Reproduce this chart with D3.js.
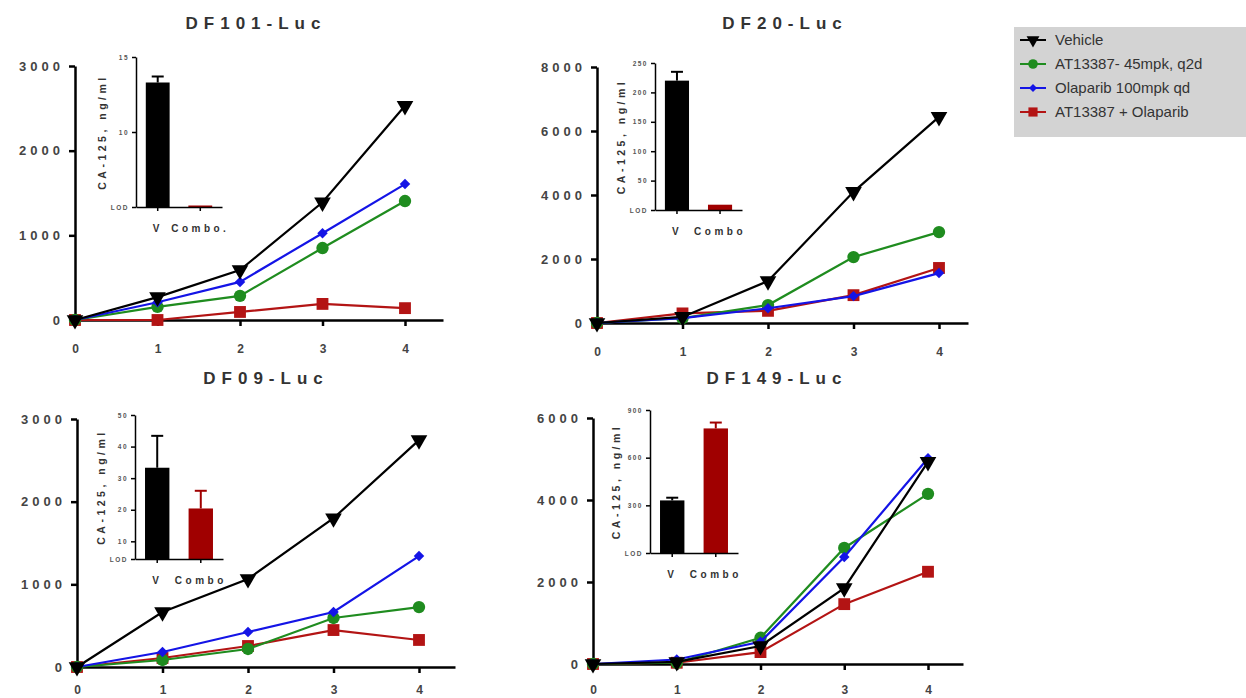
<!DOCTYPE html>
<html>
<head>
<meta charset="utf-8">
<script src="https://cdn.jsdelivr.net/npm/d3@7"></script>
<style>
  body { margin: 0; background: #fff; }
  text { font-family: Arial, "Liberation Sans", sans-serif; }
</style>
</head>
<body>
<svg id="chart" width="1246" height="698"></svg>
<script>
// days after treatment start (x axis of every panel)
const days = [0, 1, 2, 3, 4];
const seriesNames = ["Vehicle", "AT13387- 45mpk, q2d", "Olaparib 100mpk qd", "AT13387 + Olaparib"];
const seriesColors = ["#000000", "#1f8c1f", "#1414e6", "#b31414"];

// rows follow seriesNames: vehicle, AT13387, olaparib, combo
const df101Values = [
  [0, 270, 590, 1390, 2530],
  [0, 155, 285, 850, 1405],
  [0, 210, 450, 1025, 1605],
  [0, 0, 95, 190, 140]
];
const df20Values = [
  [0, 190, 1310, 4100, 6440],
  [0, 150, 560, 2060, 2840],
  [0, 150, 460, 840, 1560],
  [0, 300, 380, 870, 1720]
];
const df09Values = [
  [0, 665, 1065, 1800, 2745],
  [0, 85, 218, 593, 725],
  [0, 181, 423, 665, 1342],
  [0, 109, 254, 447, 327]
];
const df149Values = [
  [0, 50, 440, 1850, 4930],
  [0, 30, 640, 2830, 4150],
  [0, 110, 540, 2610, 5020],
  [0, 30, 290, 1460, 2250]
];

const df101Ticks = [0, 1000, 2000, 3000];
const df20Ticks = [0, 2000, 4000, 6000, 8000];
const df09Ticks = [0, 1000, 2000, 3000];
const df149Ticks = [0, 2000, 4000, 6000];

// CA-125 insets: [vehicle, combo] mean and top of error bar
const df101Ca125 = [13.3, 5.08];
const df101Ca125Err = [13.7, 5.08];
const df20Ca125 = [220, 9];
const df20Ca125Err = [235, 9];
const df09Ca125 = [33.3, 20.4];
const df09Ca125Err = [43.4, 26];
const df149Ca125 = [331, 784];
const df149Ca125Err = [348, 821];

const df101InsetTicks = [10, 15];
const df20InsetTicks = [50, 100, 150, 200, 250];
const df09InsetTicks = [10, 20, 30, 40, 50];
const df149InsetTicks = [300, 600, 900];
const insetColors = ["#000000", "#a00000"];

const svg = d3.select("#chart");
const FONT = "Arial, 'Liberation Sans', sans-serif";

// pixel layout of each panel
const panels = [
  {title: "DF101-Luc", values: df101Values, ticks: df101Ticks, yMax: 3000,
   x0: 75, x4: 405, xEnd: 443, y0: 320, yTop: 66, titleX: 253, titleY: 29, labelY: 353,
   inset: {x: 136, xEnd: 222, top: 57, bottom: 207, lod: 5, max: 15, ticks: df101InsetTicks,
           vals: df101Ca125, errs: df101Ca125Err, labels: ["V", "Combo."]}},
  {title: "DF20-Luc", values: df20Values, ticks: df20Ticks, yMax: 8000,
   x0: 597, x4: 939, xEnd: 968, y0: 323, yTop: 67, titleX: 782, titleY: 29, labelY: 356,
   inset: {x: 655, xEnd: 742, top: 63, bottom: 210, lod: 0, max: 250, ticks: df20InsetTicks,
           vals: df20Ca125, errs: df20Ca125Err, labels: ["V", "Combo"]}},
  {title: "DF09-Luc", values: df09Values, ticks: df09Ticks, yMax: 3000,
   x0: 77, x4: 419, xEnd: 455, y0: 667, yTop: 419, titleX: 263, titleY: 384, labelY: 694,
   inset: {x: 135, xEnd: 223, top: 415, bottom: 559, lod: 4.4, max: 50, ticks: df09InsetTicks,
           vals: df09Ca125, errs: df09Ca125Err, labels: ["V", "Combo"]}},
  {title: "DF149-Luc", values: df149Values, ticks: df149Ticks, yMax: 6000,
   x0: 593, x4: 928, xEnd: 963, y0: 664, yTop: 418, titleX: 774, titleY: 384, labelY: 694,
   inset: {x: 650, xEnd: 738, top: 410, bottom: 553, lod: 0, max: 900, ticks: df149InsetTicks,
           vals: df149Ca125, errs: df149Ca125Err, labels: ["V", "Combo"]}}
];

// vehicle = down triangle, AT13387 = circle, olaparib = diamond (square turned 45deg), combo = square
const symbolTypes = [d3.symbolTriangle, d3.symbolCircle, d3.symbolSquare, d3.symbolSquare];
const symbolSizes = [120, 120, 55, 140];
const symbolTurn = [180, 0, 45, 0];

function marker(i, scale) {
  return d3.symbol().type(symbolTypes[i]).size(symbolSizes[i] * (scale || 1))();
}

function drawPanel(p) {
  const g = svg.append("g");
  const xEndVal = 4 * (p.xEnd - p.x0) / (p.x4 - p.x0);
  const x = d3.scaleLinear().domain([0, xEndVal]).range([p.x0, p.xEnd]);
  const y = d3.scaleLinear().domain([0, p.yMax]).range([p.y0, p.yTop]);

  g.append("text")
    .attr("x", p.titleX + 3).attr("y", p.titleY)
    .attr("text-anchor", "middle")
    .style("font-size", "17px").style("font-weight", "bold")
    .style("letter-spacing", "6px").style("fill", "#333")
    .text(p.title);

  // y axis
  const ya = g.append("g").attr("transform", `translate(${p.x0},0)`)
    .call(d3.axisLeft(y).tickValues(p.ticks).tickSize(6).tickSizeOuter(0).tickFormat(d3.format("d")));
  ya.select(".domain").attr("stroke-width", 2.5);
  ya.selectAll(".tick line").attr("stroke-width", 2.5);
  ya.selectAll(".tick text")
    .attr("x", -11)
    .style("font-size", "13px").style("font-weight", "bold")
    .style("letter-spacing", "4px").style("fill", "#444").style("font-family", FONT);

  // x axis
  const xa = g.append("g").attr("transform", `translate(0,${p.y0})`)
    .call(d3.axisBottom(x).tickValues(days).tickSize(6).tickSizeOuter(0).tickFormat(d3.format("d")));
  xa.select(".domain").attr("stroke-width", 2.5);
  xa.selectAll(".tick line").attr("stroke-width", 2.5);
  xa.selectAll(".tick text")
    .attr("y", p.labelY - p.y0).attr("dy", 0)
    .style("font-size", "12px").style("font-weight", "bold")
    .style("fill", "#444").style("font-family", FONT);

  const line = d3.line().x((d, i) => x(days[i])).y(d => y(d));

  // combo first, vehicle last so black sits on top
  [3, 1, 2, 0].forEach(s => {
    const sg = g.append("g");
    sg.append("path").datum(p.values[s])
      .attr("d", line).attr("fill", "none")
      .attr("stroke", seriesColors[s]).attr("stroke-width", 2.2);
    sg.selectAll("path.pt").data(p.values[s]).join("path")
      .attr("class", "pt")
      .attr("d", marker(s))
      .attr("transform", (d, i) => `translate(${x(days[i])},${y(d)}) rotate(${symbolTurn[s]})`)
      .attr("fill", seriesColors[s]);
  });

  drawInset(g, p.inset);
}

function drawInset(g, ins) {
  const ig = g.append("g");
  const y = d3.scaleLinear().domain([ins.lod, ins.max]).range([ins.bottom, ins.top]);
  const x = d3.scaleBand().domain(ins.labels).range([ins.x, ins.xEnd]).paddingInner(0.44).paddingOuter(0.23);

  ig.selectAll("rect.bar").data(ins.vals).join("rect")
    .attr("class", "bar")
    .attr("x", (d, i) => x(ins.labels[i]))
    .attr("width", x.bandwidth())
    .attr("y", d => Math.min(y(d), ins.bottom - 1.5))
    .attr("height", d => Math.max(ins.bottom - y(d), 1.5))
    .attr("fill", (d, i) => insetColors[i]);

  ig.selectAll("g.err").data(ins.errs).join("g")
    .attr("class", "err")
    .each(function (d, i) {
      if (d - ins.vals[i] <= 0) return;
      const cx = x(ins.labels[i]) + x.bandwidth() / 2;
      const e = d3.select(this);
      e.append("line").attr("x1", cx).attr("x2", cx)
        .attr("y1", y(ins.vals[i])).attr("y2", y(d))
        .attr("stroke", insetColors[i]).attr("stroke-width", 2);
      e.append("line").attr("x1", cx - 6).attr("x2", cx + 6)
        .attr("y1", y(d)).attr("y2", y(d))
        .attr("stroke", insetColors[i]).attr("stroke-width", 2);
    });

  const ya = ig.append("g").attr("transform", `translate(${ins.x},0)`)
    .call(d3.axisLeft(y).tickValues([ins.lod].concat(ins.ticks)).tickSize(4).tickSizeOuter(0)
      .tickFormat(v => v === ins.lod ? "LOD" : v));
  ya.select(".domain").attr("stroke-width", 1.5);
  ya.selectAll(".tick line").attr("stroke-width", 1.5);
  ya.selectAll(".tick text")
    .style("font-size", "6.5px").style("font-weight", "bold")
    .style("letter-spacing", "1.5px").style("fill", "#555")
    .style("font-family", FONT);

  const xa = ig.append("g").attr("transform", `translate(0,${ins.bottom})`)
    .call(d3.axisBottom(x).tickSize(4).tickSizeOuter(0));
  xa.select(".domain").attr("stroke-width", 1.5);
  xa.selectAll(".tick line").attr("stroke-width", 1.5);
  xa.selectAll(".tick text").attr("y", 18)
    .style("font-size", "10px").style("font-weight", "bold")
    .style("letter-spacing", "3.5px").style("fill", "#333")
    .style("font-family", FONT);

  ig.append("text")
    .attr("transform", `translate(${ins.x - 30},${(ins.top + ins.bottom) / 2}) rotate(-90)`)
    .attr("text-anchor", "middle")
    .style("font-size", "10.5px").style("font-weight", "bold")
    .style("letter-spacing", "3.5px").style("fill", "#333")
    .text("CA-125, ng/ml");
}

panels.forEach(drawPanel);

// legend
const lg = svg.append("g").attr("transform", "translate(1014,27)");
lg.append("rect").attr("width", 232).attr("height", 110).attr("fill", "#d3d3d3");
seriesNames.forEach((name, s) => {
  const row = lg.append("g").attr("transform", `translate(0,${13 + s * 24})`);
  row.append("line").attr("x1", 6).attr("x2", 32).attr("stroke", seriesColors[s]).attr("stroke-width", 2);
  row.append("path").attr("d", marker(s, 0.6))
    .attr("transform", `translate(19,0) rotate(${symbolTurn[s]})`)
    .attr("fill", seriesColors[s]);
  row.append("text").attr("x", 41).attr("y", 5)
    .style("font-size", "15px").style("fill", "#333").text(name);
});
</script>
</body>
</html>
